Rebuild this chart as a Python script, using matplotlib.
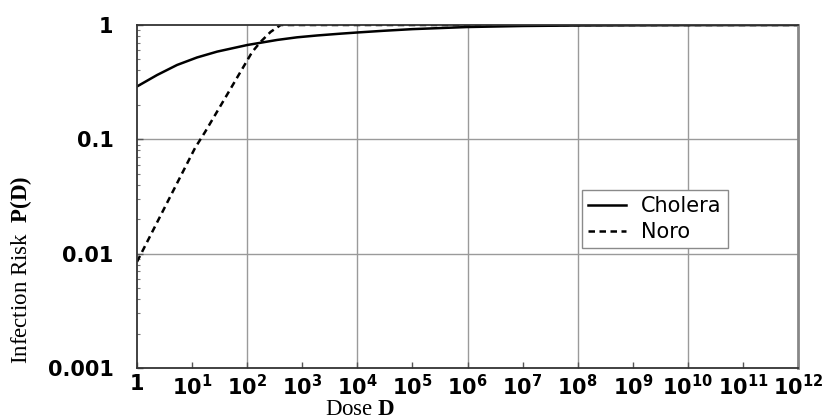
import matplotlib
matplotlib.use("Agg")
import matplotlib.pyplot as plt

plt.rcParams['mathtext.fontset'] = 'custom'
plt.rcParams['mathtext.rm'] = 'Liberation Serif'
plt.rcParams['mathtext.bf'] = 'Liberation Serif:bold'
plt.rcParams['mathtext.sf'] = 'DejaVu Sans:bold'

# values
dose_cholera = [1, 2.31, 5.33, 12.3, 28.5, 100, 350, 800, 1880, 5000, 1e4, 3e4, 1e5,
                1e6, 1e7, 1e8, 1e10, 1e12]
cholera = [0.29, 0.365, 0.447, 0.52, 0.585, 0.668, 0.74, 0.78, 0.81, 0.84, 0.86, 0.89,
           0.92, 0.96, 0.98, 0.99, 0.997, 1.0]
dose_noro = [1, 11.3, 17.2, 37.7, 123, 174, 266, 405, 1e3, 1e6, 1e9, 1e12]
noro = [0.0085, 0.084, 0.116, 0.22, 0.58, 0.71, 0.87, 1.0, 1.0, 1.0, 1.0, 1.0]

x_exps = list(range(0, 13))
grid_exps = [2, 4, 6, 8, 10]
y_ticks = [0.001, 0.01, 0.1, 1]
y_labels = ["0.001", "0.01", "0.1", "1"]

fig = plt.figure(figsize=(8.36, 4.2), dpi=100)
ax = fig.add_axes([0.1639, 0.1238, 0.7907, 0.8167])

ax.plot(dose_cholera, cholera, color="black", lw=1.8, label="Cholera")
ax.plot(dose_noro, noro, color="black", lw=1.8, ls=(0, (2.6, 1.8)), label="Noro")

ax.set_xscale("log")
ax.set_yscale("log")
ax.set_xlim(1, 1e12)
ax.set_ylim(0.001, 1)

for e in grid_exps:
    ax.axvline(10.0 ** e, color="#9a9a9a", lw=1, zorder=0)
for v in y_ticks[1:3]:
    ax.axhline(v, color="#9a9a9a", lw=1, zorder=0)

xt = [10.0 ** e for e in x_exps]
xl = ["1"] + [r"$\mathsf{10^{%d}}$" % e for e in x_exps[1:]]
ax.set_xticks(xt)
ax.set_xticklabels(xl, fontsize=15, fontweight="bold", family="DejaVu Sans")
ax.xaxis.set_minor_locator(matplotlib.ticker.NullLocator())
ax.set_yticks(y_ticks)
ax.set_yticklabels(y_labels, fontsize=15, fontweight="bold", family="DejaVu Sans")
ax.tick_params(axis="both", which="major", direction="in", length=4, width=1, color="#555555")
ax.tick_params(axis="y", which="minor", direction="in", length=2.5, width=0.8, color="#777777")
ax.tick_params(axis="x", pad=4)
ax.tick_params(axis="y", which="major", pad=17)

for s in ax.spines.values():
    s.set_color("#333333")
    s.set_linewidth(1.3)
ax.spines["right"].set_color("#888888")
ax.spines["right"].set_linewidth(2)

leg = ax.legend(loc="upper left", bbox_to_anchor=(0.673, 0.52), frameon=True, fancybox=False,
                framealpha=1, edgecolor="#8a8a8a", prop={"family": "DejaVu Sans", "size": 15},
                handlelength=1.8, handletextpad=0.75, borderpad=0.3, labelspacing=0.3,
                borderaxespad=0)
leg.get_frame().set_linewidth(1)

fig.text(0.431, 0.026, r"Dose $\mathbf{D}$", ha="center", va="center",
         fontsize=16.5, family="Liberation Serif")
fig.text(0.025, 0.357, r"Infection Risk  $\mathbf{P(D)}$", ha="center", va="center",
         rotation=90, fontsize=16.5, family="Liberation Serif")

fig.savefig("out.png", dpi=100)
